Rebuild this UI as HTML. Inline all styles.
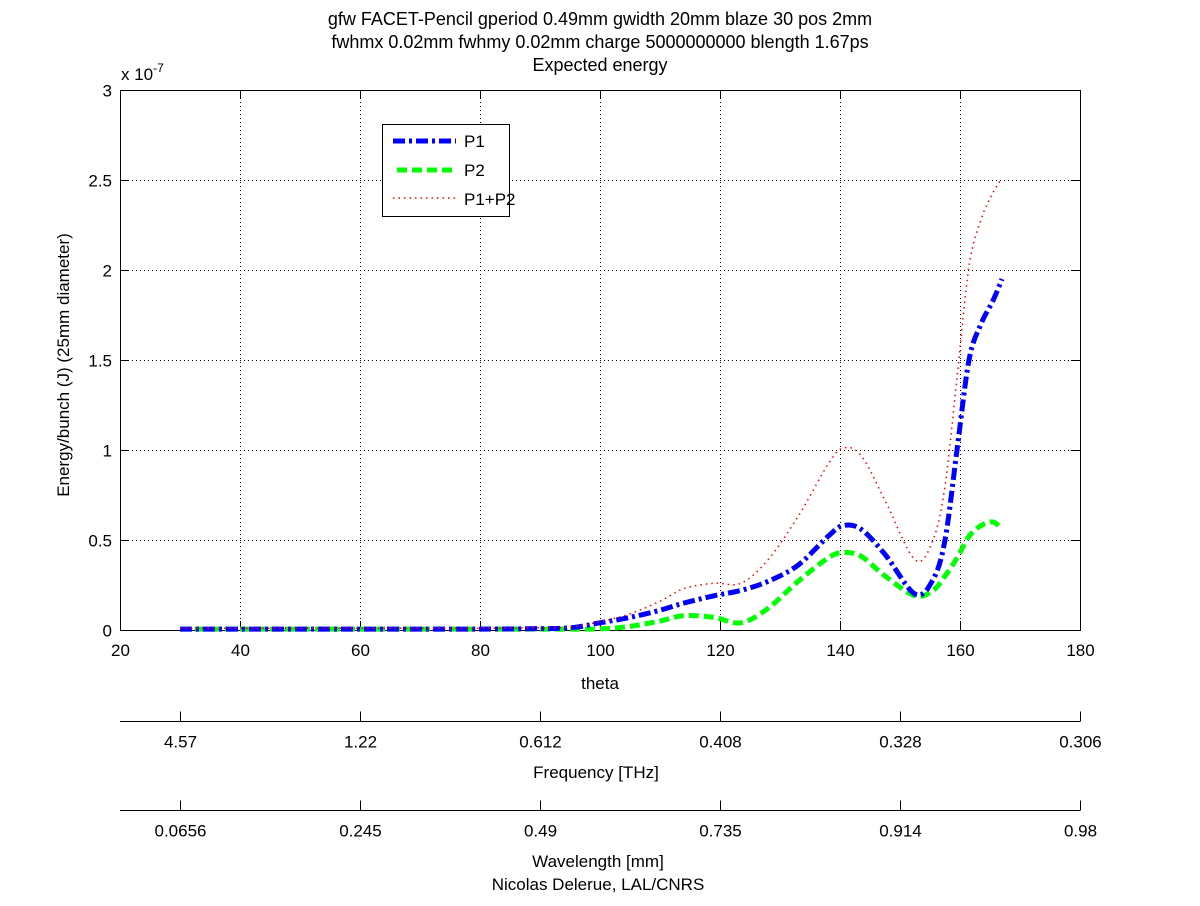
<!DOCTYPE html>
<html><head><meta charset="utf-8"><style>
body{margin:0;background:#fff}
svg text{font-family:"Liberation Sans",sans-serif;font-size:17px;fill:#000}
</style></head><body>
<svg id="c" width="1200" height="901" xmlns="http://www.w3.org/2000/svg">
<rect width="1200" height="901" fill="#fff"/>
<g id="grid"></g>
<g id="axes"></g>
<g id="series"></g>
<text x="600" y="25" text-anchor="middle" style="font-size:18px">gfw FACET-Pencil gperiod 0.49mm gwidth 20mm blaze 30 pos 2mm</text>
<text x="600" y="48" text-anchor="middle" style="font-size:18px">fwhmx 0.02mm fwhmy 0.02mm charge 5000000000 blength 1.67ps</text>
<text x="600" y="71" text-anchor="middle" style="font-size:18px">Expected energy</text>
<text x="121" y="80">x 10<tspan dy="-8" font-size="12">-7</tspan></text>
<text transform="translate(69,365) rotate(-90)" text-anchor="middle">Energy/bunch (J) (25mm diameter)</text>
<text x="600" y="689" text-anchor="middle">theta</text>
<text x="596" y="778" text-anchor="middle">Frequency [THz]</text>
<text x="598" y="867" text-anchor="middle">Wavelength [mm]</text>
<text x="598" y="890" text-anchor="middle">Nicolas Delerue, LAL/CNRS</text>
<g>
<rect x="382.5" y="124.5" width="127" height="92" fill="#fff" stroke="#000"/>
<line x1="393" y1="141" x2="456" y2="141" stroke="#00f" stroke-width="5" stroke-dasharray="12,4,3,4"/>
<text x="464" y="147">P1</text>
<line x1="397" y1="170" x2="456" y2="170" stroke="#0f0" stroke-width="5" stroke-dasharray="10,5"/>
<text x="464" y="176">P2</text>
<line x1="393" y1="198" x2="456" y2="198" stroke="#f00" stroke-width="1.5" stroke-dasharray="1.5,4"/>
<text x="464" y="205">P1+P2</text>
</g>
</svg>
<script>
const theta=[30,40,50,60,70,80,88,95,100,105,110,114,119,123.5,128,133,138,140.5,143.5,147.5,152.5,155.5,157.5,159.5,161.5,163.5,165.5,167];
const p1=[0.005,0.005,0.005,0.005,0.005,0.005,0.007,0.012,0.04,0.07,0.11,0.15,0.19,0.22,0.27,0.36,0.52,0.58,0.56,0.42,0.2,0.28,0.5,1.0,1.5,1.7,1.83,1.95];
const p2=[0.005,0.005,0.005,0.005,0.005,0.005,0.005,0.005,0.006,0.02,0.05,0.08,0.07,0.04,0.12,0.27,0.4,0.43,0.41,0.3,0.19,0.22,0.3,0.4,0.52,0.58,0.6,0.56];
const xTicks=[20,40,60,80,100,120,140,160,180];
const yTicks=[0,0.5,1,1.5,2,2.5,3];
const yTickLabels=["0","0.5","1","1.5","2","2.5","3"];
const freqTicks=[30,60,90,120,150,180];
const freqLabels=["4.57","1.22","0.612","0.408","0.328","0.306"];
const waveLabels=["0.0656","0.245","0.49","0.735","0.914","0.98"];
const sum=p1.map((v,i)=>v+p2[i]);
const X0=120,X1=1080,Y0=630,Y1=90;
const sx=v=>X0+(v-20)/160*(X1-X0);
const sy=v=>Y0-v/3*(Y0-Y1);
const NS="http://www.w3.org/2000/svg";
function mk(tag,attrs,parent){const e=document.createElementNS(NS,tag);for(const k in attrs)e.setAttribute(k,attrs[k]);parent.appendChild(e);return e;}
const grid=document.getElementById('grid'),axes=document.getElementById('axes'),ser=document.getElementById('series');
xTicks.forEach(t=>{const x=Math.round(sx(t))+0.5;
 if(t>20&&t<180){const g=mk('line',{x1:x,y1:Y1,x2:x,y2:Y0,stroke:'#000','stroke-width':1,'stroke-dasharray':'1,3'},grid);
 
 }
 mk('line',{x1:x,y1:Y0,x2:x,y2:Y0-9,stroke:'#000'},axes);
 mk('line',{x1:x,y1:Y1,x2:x,y2:Y1+9,stroke:'#000'},axes);
 const tx=mk('text',{x:x,y:Y0+26,'text-anchor':'middle'},axes);tx.textContent=t;
 
 
});
yTicks.forEach((t,i)=>{const y=Math.round(sy(t))+0.5;
 if(t>0&&t<3){const g=mk('line',{x1:X0,y1:y,x2:X1,y2:y,stroke:'#000','stroke-width':1,'stroke-dasharray':'1,3'},grid);
 
 }
 mk('line',{x1:X0,y1:y,x2:X0+9,y2:y,stroke:'#000'},axes);
 mk('line',{x1:X1,y1:y,x2:X1-9,y2:y,stroke:'#000'},axes);
 const tx=mk('text',{x:X0-8,y:y+6,'text-anchor':'end'},axes);tx.textContent=yTickLabels[i];
 
 
});
mk('rect',{x:X0+0.5,y:Y1+0.5,width:X1-X0,height:Y0-Y1,fill:'none',stroke:'#000'},axes);
[[721.5,freqLabels,'frequency'],[810.5,waveLabels,'wavelength']].forEach(([ay,labs,nm])=>{
 const l=mk('line',{x1:X0,y1:ay,x2:X1,y2:ay,stroke:'#000'},axes);
 
 
 freqTicks.forEach((t,i)=>{const x=Math.round(sx(t))+0.5;
  mk('line',{x1:x,y1:ay,x2:x,y2:ay-10,stroke:'#000'},axes);
  const tx=mk('text',{x:x,y:ay+26,'text-anchor':'middle'},axes);tx.textContent=labs[i];
  
  
 });
});
function path(vals){const pts=theta.map((t,i)=>[sx(t),sy(vals[i])]);
 let d='M'+pts[0][0]+','+pts[0][1];
 for(let i=0;i<pts.length-1;i++){const p0=pts[Math.max(0,i-1)],p1_=pts[i],p2_=pts[i+1],p3=pts[Math.min(pts.length-1,i+2)];
  const c1=[p1_[0]+(p2_[0]-p0[0])/6,p1_[1]+(p2_[1]-p0[1])/6],c2=[p2_[0]-(p3[0]-p1_[0])/6,p2_[1]-(p3[1]-p1_[1])/6];
  d+=`C${c1[0]},${c1[1]} ${c2[0]},${c2[1]} ${p2_[0]},${p2_[1]}`;}
 return d;}
const s2=mk('path',{d:path(p2),fill:'none',stroke:'#0f0','stroke-width':5,'stroke-dasharray':'10,5'},ser);


const s1=mk('path',{d:path(p1),fill:'none',stroke:'#00f','stroke-width':5,'stroke-dasharray':'12,4,3,4'},ser);


const s3=mk('path',{d:path(sum),fill:'none',stroke:'#f00','stroke-width':1.5,'stroke-dasharray':'1.5,4'},ser);


</script>
</body></html>
